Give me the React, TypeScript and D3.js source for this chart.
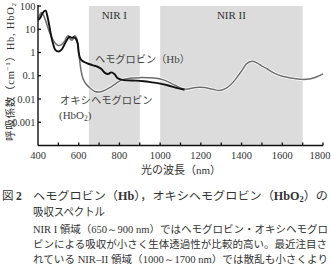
import React from "react";
import * as d3 from "d3";

// Wavelength (nm) and absorption coefficient (cm^-1) for deoxyhemoglobin
const hbWavelength = [400, 410, 420, 430, 438, 445, 455, 465, 475, 485, 500, 515, 530, 545, 555, 565, 575, 585, 595, 600, 606, 615, 630, 650, 670, 690, 710, 730, 745, 760, 775, 790, 810, 840, 880, 920, 960, 1000, 1040, 1080, 1120];
const hbValues = [25, 30, 45, 60, 63, 40, 15, 5, 2.2, 1.3, 1.1, 1.3, 2.2, 3.8, 4.8, 4.3, 4.5, 4.0, 2.5, 1.0, 0.6, 0.45, 0.38, 0.32, 0.28, 0.25, 0.2, 0.13, 0.12, 0.14, 0.12, 0.08, 0.068, 0.063, 0.062, 0.058, 0.052, 0.046, 0.038, 0.03, 0.025];

// Oxyhemoglobin
const hbo2Wavelength = [400, 408, 415, 422, 430, 440, 455, 470, 485, 500, 515, 530, 542, 550, 560, 570, 578, 588, 596, 603, 610, 620, 635, 655, 680, 700, 720, 750, 780, 810, 840, 870, 900, 940, 980, 1020, 1060, 1100, 1130, 1160, 1190, 1220, 1260, 1290, 1320, 1345, 1370, 1400, 1425, 1450, 1475, 1500, 1525, 1560, 1600, 1650, 1690, 1740, 1770, 1800];
const hbo2Values = [30, 40, 52, 48, 35, 20, 8, 4, 2.5, 2.0, 2.2, 3.0, 4.8, 5.2, 3.6, 3.5, 5.2, 4.5, 1.8, 0.6, 0.2, 0.08, 0.045, 0.03, 0.021, 0.02, 0.022, 0.03, 0.045, 0.065, 0.075, 0.08, 0.083, 0.082, 0.078, 0.065, 0.045, 0.03, 0.026, 0.03, 0.032, 0.031, 0.026, 0.023, 0.028, 0.04, 0.07, 0.16, 0.33, 0.42, 0.36, 0.26, 0.2, 0.13, 0.095, 0.078, 0.07, 0.075, 0.09, 0.12];

// Shaded bands
const bandNames = ["NIR I", "NIR II"];
const bandStarts = [650, 1000];
const bandEnds = [900, 1700];

const xTicks = [400, 600, 800, 1000, 1200, 1400, 1600, 1800];
const xMinorTicks = d3.range(500, 1801, 100);
const yTicks = [100, 10, 1, 0.1, 0.01, 0.001];
const yTickLabels = ["100", "10", "1", "0.1", "0.01", "0.001"];

const serif = "'Liberation Serif', 'DejaVu Serif', serif";
const jp = "'Noto Sans CJK JP', sans-serif";

export default function App() {
  const x = d3.scaleLinear().domain([400, 1800]).range([38, 323]);
  const y = d3.scaleLog().domain([1e-4, 100]).range([145.5, 6]);

  const line = d3
    .line<[number, number]>()
    .x((d) => x(d[0]))
    .y((d) => y(d[1]))
    .curve(d3.curveCatmullRom.alpha(0.5));

  const hb = hbWavelength.map((w, i) => [w, hbValues[i]] as [number, number]);
  const hbo2 = hbo2Wavelength.map((w, i) => [w, hbo2Values[i]] as [number, number]);

  const top = y(100);
  const bottom = y(1e-4);

  return (
    <div style={{ position: "absolute", left: 0, top: 0 }}>
      <svg width={331} height={272} style={{ display: "block", background: "#fff" }}>
        {/* bands */}
        {bandNames.map((name, i) => (
          <g key={name}>
            <rect
              x={x(bandStarts[i])}
              y={top}
              width={x(bandEnds[i]) - x(bandStarts[i])}
              height={bottom - top}
              fill="#dcdcdc"
            />
            <text
              x={(x(bandStarts[i]) + x(bandEnds[i])) / 2}
              y={19}
              textAnchor="middle"
              fontFamily={serif}
              fontSize={11}
              fill="#333"
            >
              {name}
            </text>
          </g>
        ))}

        {/* spectra */}
        <path d={line(hbo2) || ""} fill="none" stroke="#fff" strokeWidth={3} />
        <path d={line(hbo2) || ""} fill="none" stroke="#6e6e6e" strokeWidth={1.5} />
        <path d={line(hb) || ""} fill="none" stroke="#111" strokeWidth={1.9} />

        {/* axes */}
        <line x1={x(400)} x2={x(400)} y1={top - 1} y2={bottom} stroke="#111" strokeWidth={1.4} />
        <line x1={x(400)} x2={x(1800)} y1={bottom} y2={bottom} stroke="#111" strokeWidth={1.4} />
        {xMinorTicks.map((t) => (
          <line key={t} x1={x(t)} x2={x(t)} y1={bottom} y2={bottom - 3} stroke="#111" strokeWidth={1.3} />
        ))}
        {yTicks.map((t) => (
          <line key={t} x1={x(400)} x2={x(400) + 3} y1={y(t)} y2={y(t)} stroke="#111" strokeWidth={1.3} />
        ))}
        {xTicks.map((t) => (
          <text
            key={t}
            x={Math.min(x(t), 320)}
            y={159}
            textAnchor="middle"
            fontFamily={serif}
            fontSize={10.5}
            fill="#333"
          >
            {t}
          </text>
        ))}
        {yTicks.map((t, i) => (
          <text key={t} x={35.5} y={y(t) + 3.5} textAnchor="end" fontFamily={serif} fontSize={10.5} fill="#333">
            {yTickLabels[i]}
          </text>
        ))}

        {/* axis titles */}
        <text x={181} y={174} textAnchor="middle" fontFamily={serif} fontSize={11} fill="#333">
          <tspan fontFamily={jp}>光の波長（</tspan>nm<tspan fontFamily={jp}>）</tspan>
        </text>
        <text
          transform="translate(14,141) rotate(-90)"
          fontFamily={serif}
          fontSize={10.5}
          fill="#333"
          textLength={138}
          lengthAdjust="spacing"
        >
          <tspan fontFamily={jp}>呼吸係数（</tspan>cm<tspan fontSize={7} dy={-4}>−1</tspan>
          <tspan dy={4} fontFamily={jp}>）</tspan>Hb, HbO<tspan fontSize={7} dy={2}>2</tspan>
        </text>

        {/* series labels */}
        <text x={95} y={63} fontFamily={jp} fontSize={10.2} fill="#444">
          ヘモグロビン（<tspan fontFamily={serif} fontSize={11}>Hb</tspan>）
        </text>
        <text x={60} y={104} fontFamily={jp} fontSize={10.3} fill="#444">
          オキシヘモグロビン
        </text>
        <text x={59} y={119} fontFamily={serif} fontSize={11} fill="#444">
          (HbO<tspan fontSize={7.5} dy={2}>2</tspan>
          <tspan dy={-2}>)</tspan>
        </text>

        {/* caption */}
        <text x={2} y={200} fontFamily={jp} fontSize={11.5} fill="#333">
          図 <tspan fontFamily={serif} fontWeight="bold">2</tspan>
        </text>
        <text x={33} y={200} fontFamily={jp} fontSize={11.5} fill="#333" textLength={295} lengthAdjust="spacingAndGlyphs">
          ヘモグロビン（<tspan fontFamily={serif} fontWeight="bold">Hb</tspan>），オキシヘモグロビン（
          <tspan fontFamily={serif} fontWeight="bold">HbO</tspan>
          <tspan fontFamily={serif} fontWeight="bold" fontSize={8} dy={2}>2</tspan>
          <tspan dy={-2}>）の</tspan>
        </text>
        <text x={33} y={216} fontFamily={jp} fontSize={11.5} fill="#333" textLength={72} lengthAdjust="spacingAndGlyphs">
          吸収スペクトル
        </text>
        <text x={33} y={233} fontFamily={jp} fontSize={10} fill="#333" textLength={295} lengthAdjust="spacingAndGlyphs">
          <tspan fontFamily={serif}>NIR I </tspan>領域（<tspan fontFamily={serif}>650～900 nm</tspan>）ではヘモグロビン・オキシヘモグロ
        </text>
        <text x={33} y={248} fontFamily={jp} fontSize={10} fill="#333" textLength={294} lengthAdjust="spacingAndGlyphs">
          ビンによる吸収が小さく生体透過性が比較的高い。最近注目さ
        </text>
        <text x={33} y={263} fontFamily={jp} fontSize={10} fill="#333" textLength={295} lengthAdjust="spacingAndGlyphs">
          れている<tspan fontFamily={serif}> NIR–II </tspan>領域（<tspan fontFamily={serif}>1000～1700 nm</tspan>）では散乱も小さくより
        </text>
      </svg>
    </div>
  );
}
